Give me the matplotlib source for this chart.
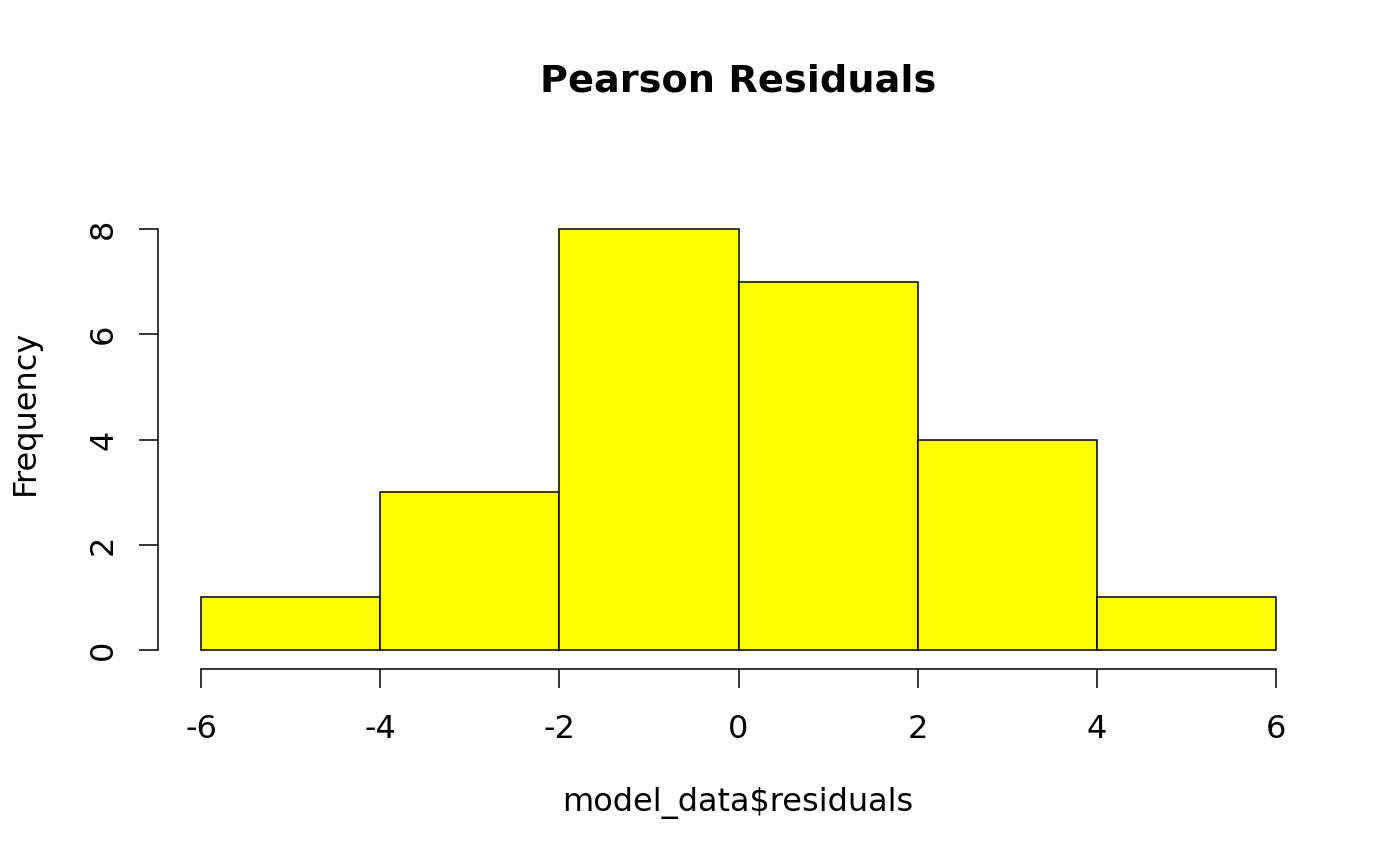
import numpy as np
import matplotlib
matplotlib.use("Agg")
from matplotlib import pyplot as plt

# 直方图数据
bin_edges = [-6, -4, -2, 0, 2, 4, 6]
counts = [1, 3, 8, 7, 4, 1]
x_ticks = [-6, -4, -2, 0, 2, 4, 6]
y_ticks = [0, 2, 4, 6, 8]

plt.rcParams["font.family"] = ["DejaVu Sans"]

fig = plt.figure(figsize=(14, 8.65), dpi=100)
ax = fig.add_axes([158 / 1400, 1 - 667 / 865, (1319 - 158) / 1400, (667 - 212) / 865])

lefts = np.array(bin_edges[:-1])
widths = np.diff(bin_edges)
ax.bar(lefts, counts, width=widths, align="edge", color="#ffff00",
       edgecolor="black", linewidth=1.1)

ax.set_xlim(-6.48, 6.48)
ax.set_ylim(-0.32, 8.32)

# R风格坐标轴
for s in ["top", "right"]:
    ax.spines[s].set_visible(False)
ax.spines["left"].set_bounds(0, 8)
ax.spines["bottom"].set_bounds(-6, 6)
ax.spines["bottom"].set_position(("outward", 1.5))
for s in ["left", "bottom"]:
    ax.spines[s].set_linewidth(1.1)

ax.set_xticks(x_ticks)
ax.set_xticklabels([str(v) for v in x_ticks])
ax.set_yticks(y_ticks)
ax.set_yticklabels([str(v) for v in y_ticks], rotation=90, va="center")
ax.tick_params(axis="both", length=14, width=1.1, labelsize=23)
ax.tick_params(axis="x", pad=18.5)
ax.tick_params(axis="y", pad=14)

fig.text(738 / 1400, 1 - 82 / 865, "Pearson Residuals", ha="center", va="center",
         fontsize=27.5, fontweight="bold")
fig.text(738 / 1400, 1 - 803 / 865, "model_data$residuals", ha="center", va="center",
         fontsize=23)
fig.text(25 / 1400, 1 - 412 / 865, "Frequency", ha="center", va="center",
         rotation=90, fontsize=23)

fig.savefig("out.png", dpi=100)
